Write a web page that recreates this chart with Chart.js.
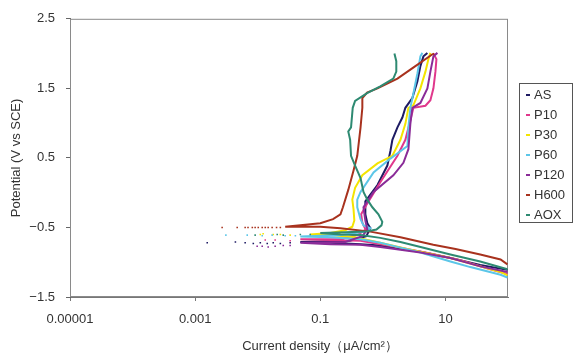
<!DOCTYPE html>
<html>
<head>
<meta charset="utf-8">
<script src="https://cdn.jsdelivr.net/npm/chart.js@4.4.1/dist/chart.umd.min.js"></script>
<style>
  html, body { margin: 0; padding: 0; background: #fff; }
  #wrap { position: relative; width: 573px; height: 356px; }
</style>
</head>
<body>
<div id="wrap"><canvas id="grafico"></canvas></div>
<script>
const seriesNames = ['AS', 'P10', 'P30', 'P60', 'P120', 'H600', 'AOX'];
const seriesColors = ['#1e1b63', '#e0388c', '#f4e400', '#5cc6e8', '#8a2c98', '#a8321e', '#2e8a72'];

// current density (uA/cm2) and potential (V vs SCE), cathodic branch then anodic branch
const asCurrent = [98, 36, 12.0, 4.0, 1.91, 0.91, 0.44, 0.145, 0.048, 0.30, 0.545, 0.63, 0.565, 0.525, 0.525, 0.82, 1.18, 1.32, 1.42, 1.71, 2.05, 2.29, 2.96, 3.56, 3.98, 4.45, 5.15];
const asPotential = [-1.11, -1.04, -0.94, -0.85, -0.81, -0.76, -0.74, -0.72, -0.71, -0.69, -0.625, -0.51, -0.44, -0.31, -0.125, 0.11, 0.39, 0.60, 0.76, 0.94, 1.08, 1.22, 1.36, 1.60, 1.82, 1.96, 2.01];

const p10Current = [98, 52, 17.4, 5.75, 1.91, 0.91, 0.44, 0.145, 0.048, 0.21, 0.41, 0.53, 0.47, 0.45, 0.59, 0.91, 1.71, 2.29, 2.75, 3.08, 4.79, 5.75, 6.43, 6.92, 7.18, 6.43];
const p10Potential = [-1.17, -1.10, -0.97, -0.875, -0.79, -0.74, -0.69, -0.68, -0.67, -0.67, -0.60, -0.53, -0.43, -0.31, -0.125, 0.15, 0.53, 0.76, 1.04, 1.22, 1.25, 1.33, 1.50, 1.74, 1.92, 2.0];

const p30Current = [98, 76, 36, 12.0, 2.75, 0.91, 0.36, 0.145, 0.069, 0.145, 0.25, 0.325, 0.35, 0.34, 0.325, 0.36, 0.47, 0.82, 1.42, 1.91, 2.29, 2.56, 3.08, 3.98, 4.79, 5.35, 5.75];
const p30Potential = [-1.19, -1.14, -1.06, -0.94, -0.82, -0.72, -0.64, -0.61, -0.60, -0.58, -0.54, -0.49, -0.40, -0.24, -0.10, 0.07, 0.25, 0.42, 0.53, 0.76, 0.99, 1.22, 1.26, 1.50, 1.74, 1.92, 2.01];

const p60Current = [98, 76, 25, 12.0, 4.0, 1.91, 0.91, 0.44, 0.145, 0.048, 0.21, 0.53, 0.63, 0.49, 0.44, 0.39, 0.39, 0.44, 0.71, 1.32, 2.47, 2.56, 2.75, 3.08, 3.56, 3.98, 4.29];
const p60Potential = [-1.22, -1.18, -1.07, -0.99, -0.86, -0.79, -0.72, -0.67, -0.64, -0.63, -0.61, -0.56, -0.51, -0.47, -0.38, -0.21, -0.10, 0.01, 0.29, 0.49, 0.67, 0.94, 1.22, 1.43, 1.71, 1.96, 2.01];

const p120Current = [98, 36, 12.0, 4.0, 1.91, 0.91, 0.44, 0.145, 0.048, 0.25, 0.47, 0.565, 0.525, 0.49, 0.71, 1.47, 2.13, 2.56, 2.75, 2.96, 3.98, 5.15, 5.75, 6.43, 7.45];
const p120Potential = [-1.14, -1.06, -0.94, -0.86, -0.82, -0.78, -0.75, -0.74, -0.72, -0.71, -0.625, -0.53, -0.40, -0.21, 0.01, 0.25, 0.43, 0.625, 0.99, 1.22, 1.29, 1.50, 1.74, 1.96, 2.01];

const h600Current = [98, 76, 36, 14.5, 6.4, 1.91, 0.63, 0.21, 0.10, 0.0275, 0.048, 0.10, 0.16, 0.21, 0.23, 0.28, 0.34, 0.39, 0.44, 0.47, 0.47, 0.56, 0.82, 1.71, 3.31, 6.2, 6.6];
const h600Potential = [-1.03, -0.96, -0.89, -0.81, -0.75, -0.64, -0.56, -0.51, -0.49, -0.49, -0.47, -0.44, -0.38, -0.31, -0.21, 0.04, 0.32, 0.53, 0.94, 1.22, 1.36, 1.44, 1.50, 1.64, 1.82, 1.99, 2.0];

const aoxCurrent = [98, 36, 12.0, 4.0, 1.91, 0.91, 0.44, 0.21, 0.10, 0.25, 0.53, 0.79, 0.95, 0.98, 0.85, 0.68, 0.565, 0.49, 0.44, 0.36, 0.31, 0.30, 0.28, 0.31, 0.33, 0.36, 0.56, 0.91, 1.47, 1.64, 1.64, 1.53];
const aoxPotential = [-1.10, -0.99, -0.89, -0.78, -0.71, -0.65, -0.61, -0.60, -0.58, -0.57, -0.56, -0.53, -0.47, -0.42, -0.31, -0.21, -0.10, 0.01, 0.21, 0.39, 0.53, 0.76, 0.88, 0.94, 1.22, 1.32, 1.43, 1.53, 1.64, 1.74, 1.89, 2.0];

// scattered points near the corrosion potential
const asDotCurrent = [0.00156, 0.0044, 0.0063, 0.0085, 0.011, 0.0142, 0.0177, 0.023, 0.033];
const asDotPotential = [-0.72, -0.71, -0.72, -0.73, -0.72, -0.73, -0.72, -0.73, -0.72];
const p10DotCurrent = [0.0132, 0.019, 0.033];
const p10DotPotential = [-0.68, -0.68, -0.69];
const p30DotCurrent = [0.011, 0.0122, 0.0177, 0.023, 0.033];
const p30DotPotential = [-0.60, -0.59, -0.60, -0.60, -0.61];
const p60DotCurrent = [0.0031, 0.0068, 0.0118, 0.017, 0.0275, 0.040];
const p60DotPotential = [-0.61, -0.61, -0.62, -0.61, -0.62, -0.62];
const p120DotCurrent = [0.0098, 0.0118, 0.0147, 0.019, 0.0256, 0.033];
const p120DotPotential = [-0.77, -0.77, -0.78, -0.77, -0.76, -0.76];
const h600DotCurrent = [0.0027, 0.0047, 0.0063, 0.0070, 0.0082, 0.0091, 0.0102, 0.0118, 0.0132, 0.0147, 0.017, 0.020, 0.023];
const h600DotPotential = [-0.50, -0.50, -0.50, -0.50, -0.50, -0.50, -0.50, -0.50, -0.50, -0.50, -0.50, -0.50, -0.50];
const aoxDotCurrent = [0.0091, 0.0205, 0.0256, 0.048, 0.069];
const aoxDotPotential = [-0.61, -0.60, -0.61, -0.60, -0.60];

const xTickValues = [0.00001, 0.001, 0.1, 10];
const xTickLabels = ['0.00001', '0.001', '0.1', '10'];
const yTickLabels = ['\u22121.5', '\u22120.5', '0.5', '1.5', '2.5'];

const curveData = [
  [asCurrent, asPotential], [p10Current, p10Potential], [p30Current, p30Potential],
  [p60Current, p60Potential], [p120Current, p120Potential], [h600Current, h600Potential],
  [aoxCurrent, aoxPotential]
];
const dotData = [
  [asDotCurrent, asDotPotential], [p10DotCurrent, p10DotPotential], [p30DotCurrent, p30DotPotential],
  [p60DotCurrent, p60DotPotential], [p120DotCurrent, p120DotPotential], [h600DotCurrent, h600DotPotential],
  [aoxDotCurrent, aoxDotPotential]
];

const FONT = '"Liberation Sans", Arial, sans-serif';
const TEXT = '#333';

function toPoints(xs, ys) {
  return xs.map((x, i) => ({ x: x, y: ys[i] }));
}

const datasets = [];
seriesNames.forEach((name, i) => {
  datasets.push({
    label: name,
    data: toPoints(curveData[i][0], curveData[i][1]),
    showLine: true,
    borderColor: seriesColors[i],
    backgroundColor: seriesColors[i],
    borderWidth: 2,
    pointRadius: 0,
    tension: 0,
    order: 20 - i
  });
  datasets.push({
    label: name + ' pts',
    data: toPoints(dotData[i][0], dotData[i][1]),
    showLine: false,
    backgroundColor: seriesColors[i],
    borderWidth: 0,
    pointRadius: 1.1,
    pointStyle: 'rect',
    order: 20 - i
  });
});

const framePlugin = {
  id: 'frame',
  beforeDatasetsDraw(chart) {
    const { ctx, chartArea } = chart;
    ctx.save();
    ctx.strokeStyle = '#8a8a8a';
    ctx.lineWidth = 1;
    ctx.strokeRect(chartArea.left + 0.5, chartArea.top + 0.5, chartArea.width - 1, chartArea.height - 1);
    ctx.restore();
  },
  afterDraw(chart) {
    const { ctx } = chart;
    ctx.save();
    // x axis title (sits right of centre in the original)
    ctx.font = '13px ' + FONT;
    ctx.fillStyle = TEXT;
    ctx.textAlign = 'center';
    ctx.textBaseline = 'middle';
    ctx.fillText('Current density\uFF08\u03BCA/cm\u00B2\uFF09', 320, 346);

    // legend box
    ctx.strokeStyle = '#555';
    ctx.lineWidth = 1;
    ctx.strokeRect(519.5, 83.5, 53, 139);
    ctx.textAlign = 'left';
    seriesNames.forEach((name, i) => {
      const y = 95 + i * 20;
      ctx.fillStyle = seriesColors[i];
      ctx.fillRect(526, y - 1, 4, 2);
      ctx.fillStyle = TEXT;
      ctx.fillText(name, 534, y);
    });
    ctx.restore();
  }
};

document.addEventListener('DOMContentLoaded', function () {
  const ctx = document.getElementById('grafico').getContext('2d');
  new Chart(ctx, {
    type: 'scatter',
    data: { datasets: datasets },
    plugins: [framePlugin],
    options: {
      responsive: true,
      maintainAspectRatio: false,
      animation: false,
      layout: { padding: { top: 8, right: 65, left: 0, bottom: 0 } },
      plugins: {
        legend: { display: false },
        tooltip: { enabled: false }
      },
      scales: {
        x: {
          type: 'logarithmic',
          min: 0.00001,
          max: 100,
          afterBuildTicks(scale) {
            scale.ticks = xTickValues.map(v => ({ value: v }));
          },
          afterFit(scale) { scale.height = 59; },
          grid: { drawOnChartArea: false, drawTicks: true, tickLength: 4, color: '#777' },
          border: { display: true, color: '#777' },
          ticks: {
            autoSkip: false,
            maxRotation: 0,
            padding: 11,
            color: TEXT,
            font: { family: FONT, size: 13 },
            callback: (value, index) => xTickLabels[index]
          }
        },
        y: {
          type: 'linear',
          min: -1.5,
          max: 2.5,
          afterFit(scale) { scale.width = 70; },
          grid: { drawOnChartArea: false, drawTicks: true, tickLength: 4, color: '#666' },
          border: { display: true, color: '#666' },
          ticks: {
            stepSize: 1,
            padding: 11,
            color: TEXT,
            font: { family: FONT, size: 13 },
            callback: (value, index) => yTickLabels[index]
          },
          title: {
            display: true,
            text: 'Potential (V vs SCE)',
            color: TEXT,
            font: { family: FONT, size: 13 },
            padding: { top: 9, bottom: 0 }
          }
        }
      }
    }
  });
});
</script>
</body>
</html>
